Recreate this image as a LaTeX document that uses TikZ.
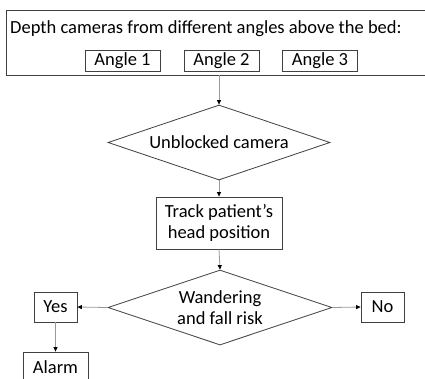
\documentclass[tikz,border=0pt]{standalone}
\usepackage{fontspec}
\setmainfont{Carlito}
\usetikzlibrary{shapes.geometric,arrows.meta}
\tikzset{every node/.style={font=\fontsize{18.5}{21.5}\selectfont, inner sep=1pt},
  box/.style={draw=black!75, line width=0.8pt, rectangle, align=center},
  decide/.style={draw=black!75, line width=0.8pt, diamond, aspect=2.96, inner sep=0pt, align=center},
  flow/.style={draw=black!40, line width=0.8pt, -{Triangle[length=4.5pt,width=4pt,color=black]}}}

\begin{document}
\begin{tikzpicture}[x=1pt,y=-1pt]
  \clip (0,0) rectangle (425,378);
  \fill[white] (0,0) rectangle (425,378);
  \node[box, minimum width=430, minimum height=65] (cams) at (221,42.5) {};
  \node[anchor=base west, inner sep=0pt] (title) at (10,33) {Depth cameras from different angles above the bed:};
  \node[box, minimum width=75, minimum height=21] (a1) at (122.5,60.5) {Angle 1};
  \node[box, minimum width=75, minimum height=21] (a2) at (221.5,60.5) {Angle 2};
  \node[box, minimum width=75, minimum height=21] (a3) at (320,60.5) {Angle 3};
  \node[decide, minimum width=222, minimum height=75] (ub) at (219,142.5) {Unblocked camera};
  \node[box, minimum width=126, minimum height=52] (track) at (219,223) {Track patient’s\\head position};
  \node[decide, minimum width=224, minimum height=75] (risk) at (220,307.5) {Wandering\\and fall risk};
  \node[box, minimum width=43, minimum height=30] (yes) at (55.5,307) {Yes};
  \node[box, minimum width=43, minimum height=30] (no) at (382.5,307) {No};
  \node[box, minimum width=65, minimum height=30] (alarm) at (55.5,367) {Alarm};

  \draw[flow] (ub.north |- cams.south) -- (ub.north);
  \draw[flow] (ub.south) -- (track.north);
  \draw[flow] (track.south) -- (risk.north);
  \draw[flow] (risk.west) -- (yes.east);
  \draw[flow] (risk.east) -- (no.west);
  \draw[flow] (yes.south) -- (alarm.north);
\end{tikzpicture}
\end{document}
